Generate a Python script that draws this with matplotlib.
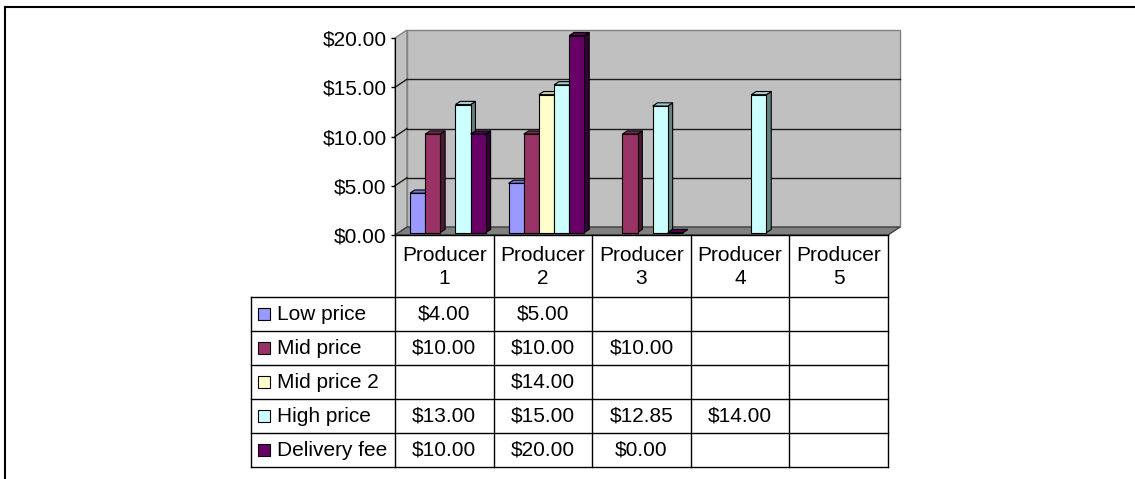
import numpy as np
import matplotlib.pyplot as plt
from matplotlib.patches import Polygon
from matplotlib.lines import Line2D
from matplotlib.transforms import IdentityTransform
from matplotlib.colors import to_rgb

# chart data
producers = ["Producer\n1", "Producer\n2", "Producer\n3", "Producer\n4", "Producer\n5"]
series_names = ["Low price", "Mid price", "Mid price 2", "High price", "Delivery fee"]
low_price = [4.00, 5.00, None, None, None]
mid_price = [10.00, 10.00, 10.00, None, None]
mid_price_2 = [None, 14.00, None, None, None]
high_price = [13.00, 15.00, 12.85, 14.00, None]
delivery_fee = [10.00, 20.00, 0.00, None, None]
series_values = [low_price, mid_price, mid_price_2, high_price, delivery_fee]
series_colors = ["#9999FF", "#993366", "#FFFFCC", "#CCFFFF", "#660066"]
y_ticks = [0, 5, 10, 15, 20]

plt.rcParams['font.family'] = ['Liberation Sans', 'DejaVu Sans']
FS = 15

W, H = 1135, 479
fig = plt.figure(figsize=(W / 100, H / 100), dpi=100)

# front plane of the 3D plot area (pixels)
PLOT_L, PLOT_R, PLOT_TOP, PLOT_BASE = 395, 888, 38, 235
ax = fig.add_axes([PLOT_L / W, 1 - PLOT_BASE / H, (PLOT_R - PLOT_L) / W, (PLOT_BASE - PLOT_TOP) / H])
ax.set_xlim(0, len(producers))
ax.set_ylim(0, 20)
ax.patch.set_visible(False)
for s in ["top", "right", "bottom"]:
    ax.spines[s].set_visible(False)
ax.spines["left"].set_color("black")
ax.set_xticks([])
ax.set_yticks(y_ticks)
ax.set_yticklabels([f"${v:.2f}" for v in y_ticks])
ax.tick_params(axis="y", length=3, width=1, pad=3, labelsize=FS)

DEPTH = np.array([12.0, 8.0])  # depth vector in display pixels
BAR_D0, BAR_D1 = 0.3, 0.7
GAP = 1.5  # gap width 150%


def to_disp(x, v, d):
    return ax.transData.transform((x, v)) + d * DEPTH


def poly(pts, fc, ec, lw=1.0, z=1):
    p = Polygon(pts, closed=True, facecolor=fc, edgecolor=ec, linewidth=lw,
                transform=IdentityTransform(), clip_on=False, zorder=z)
    ax.add_artist(p)


def shade(color, f):
    return tuple(c * f for c in to_rgb(color))


nx = len(producers)
# walls and floor
poly([to_disp(0, 0, 1), to_disp(nx, 0, 1), to_disp(nx, 20, 1), to_disp(0, 20, 1)], "#C0C0C0", "#808080", z=0.1)
poly([to_disp(0, 0, 0), to_disp(0, 0, 1), to_disp(0, 20, 1), to_disp(0, 20, 0)], "#C0C0C0", "#808080", z=0.1)
poly([to_disp(0, 0, 0), to_disp(nx, 0, 0), to_disp(nx, 0, 1), to_disp(0, 0, 1)], "#808080", "#404040", z=0.2)

# gridlines on back and side walls
for v in y_ticks[1:-1]:
    for a, b in [(to_disp(0, v, 1), to_disp(nx, v, 1)), (to_disp(0, v, 0), to_disp(0, v, 1))]:
        ax.add_artist(Line2D([a[0], b[0]], [a[1], b[1]], color="#1a1a1a", lw=1,
                             transform=IdentityTransform(), clip_on=False, zorder=0.3))

# 3D columns
slot = 1 / (len(series_values) + GAP)
z = 1
for c in range(nx):
    for s, vals in enumerate(series_values):
        v = vals[c]
        if v is None:
            continue
        col = series_colors[s]
        x0 = c + (GAP / 2 + s) * slot
        x1 = x0 + slot
        side = [to_disp(x1, 0, BAR_D0), to_disp(x1, 0, BAR_D1), to_disp(x1, v, BAR_D1), to_disp(x1, v, BAR_D0)]
        top = [to_disp(x0, v, BAR_D0), to_disp(x1, v, BAR_D0), to_disp(x1, v, BAR_D1), to_disp(x0, v, BAR_D1)]
        front = [to_disp(x0, 0, BAR_D0), to_disp(x1, 0, BAR_D0), to_disp(x1, v, BAR_D0), to_disp(x0, v, BAR_D0)]
        poly(side, shade(col, 0.5), "black", 0.8, z)
        poly(top, shade(col, 0.8), "black", 0.8, z + 0.01)
        poly(front, col, "black", 0.8, z + 0.02)
        z += 0.1

# data table below the plot
COL_PX = (PLOT_R - PLOT_L) / nx
LABEL_PX = 144
HEADER_H, ROW_H = 62, 34
TABLE_H = HEADER_H + ROW_H * len(series_names)
lab_w = LABEL_PX / COL_PX
tx = fig.add_axes([(PLOT_L - LABEL_PX) / W, 1 - (PLOT_BASE + TABLE_H) / H,
                   (PLOT_R - PLOT_L + LABEL_PX) / W, TABLE_H / H])
tx.set_xlim(-lab_w, nx)
tx.set_ylim(TABLE_H, 0)
tx.axis("off")

lk = dict(color="black", lw=1, clip_on=False)
tx.plot([0, nx], [0, 0], **lk)
for r in range(len(series_names) + 1):
    y = HEADER_H + r * ROW_H
    tx.plot([-lab_w, nx], [y, y], **lk)
for c in range(nx + 1):
    tx.plot([c, c], [0, TABLE_H], **lk)
tx.plot([-lab_w, -lab_w], [HEADER_H, TABLE_H], **lk)

for c, name in enumerate(producers):
    tx.text(c + 0.5, HEADER_H / 2 + 1, name, ha="center", va="center", fontsize=FS, linespacing=1.3)

for r, (name, vals, col) in enumerate(zip(series_names, series_values, series_colors)):
    yc = HEADER_H + (r + 0.5) * ROW_H
    tx.plot(-lab_w + 12.5 / COL_PX, yc, marker="s", ms=8, mfc=col, mec="black", mew=0.8, clip_on=False)
    tx.text(-lab_w + 26 / COL_PX, yc, name, ha="left", va="center", fontsize=FS)
    for c, v in enumerate(vals):
        if v is not None:
            tx.text(c + 0.5, yc, f"${v:.2f}", ha="center", va="center", fontsize=FS)

# chart area border
fig.add_artist(Line2D([5 / W, 1], [1 - 7 / H, 1 - 7 / H], color="black", lw=1.5, transform=fig.transFigure))
fig.add_artist(Line2D([5 / W, 5 / W], [0, 1 - 7 / H], color="black", lw=1.5, transform=fig.transFigure))

fig.savefig("out.png", dpi=100)
